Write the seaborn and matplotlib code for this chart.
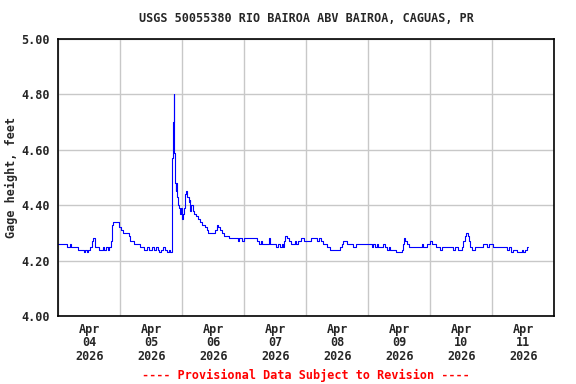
import pandas as pd
import seaborn as sns
import matplotlib.pyplot as plt
import matplotlib.dates as mdates
from matplotlib.ticker import FixedLocator, FormatStrFormatter

# hours after 2026-04-04 00:00 where the reading changes, and the reading (feet)
hours = [0.0, 3.4, 4.5, 5.0, 7.5, 10.1, 10.5, 11.1, 11.6, 12.4, 12.9, 13.3, 14.2,
         15.9, 17.2, 17.8, 18.5, 19.1, 19.7, 20.4, 20.8, 21.2, 23.5, 24.1, 25.0,
         27.2, 27.8, 29.4, 31.5, 33.2, 34.2, 35.0, 36.3, 36.9, 37.8, 38.5, 39.1,
         39.9, 40.6, 41.4, 42.1, 42.7, 43.3, 44.0, 44.3, 44.6, 44.9, 45.1, 45.4,
         45.7, 46.0, 46.4, 46.8, 47.2, 47.6, 48.0, 48.4, 48.8, 49.1, 49.5, 50.0,
         50.4, 50.8, 51.1, 51.5, 52.0, 52.5, 53.3, 54.2, 55.0, 55.8, 56.6, 57.6,
         58.1, 60.5, 61.3, 61.8, 62.5, 63.2, 64.2, 66.1, 69.4, 70.0, 71.0, 72.0,
         77.0, 77.6, 78.3, 78.7, 81.6, 82.1, 84.3, 85.2, 85.8, 86.5, 87.0, 87.4,
         87.9, 88.6, 89.4, 90.2, 91.5, 92.1, 92.9, 94.1, 95.2, 97.9, 100.0, 101.0,
         101.8, 102.6, 103.9, 105.2, 109.0, 109.8, 110.3, 111.6, 113.9, 115.2,
         121.3, 121.9, 122.6, 123.2, 123.9, 125.8, 126.4, 127.1, 127.9, 128.4,
         130.7, 132.9, 133.3, 133.7, 134.3, 135.1, 135.9, 140.6, 141.3, 142.6,
         143.9, 144.5, 146.2, 147.7, 148.4, 152.9, 153.5, 154.8, 156.1, 156.8,
         157.4, 157.9, 158.4, 159.0, 159.5, 160.0, 161.3, 164.5, 165.8, 166.7,
         168.1, 173.5, 174.3, 175.3, 175.9, 177.4, 179.5, 180.0, 180.5, 181.3,
         181.9]
gage_ft = [4.26, 4.25, 4.26, 4.25, 4.24, 4.23, 4.24, 4.23, 4.24, 4.25, 4.27, 4.28, 4.25,
           4.24, 4.25, 4.24, 4.25, 4.24, 4.25, 4.27, 4.33, 4.34, 4.32, 4.31, 4.30,
           4.29, 4.27, 4.26, 4.25, 4.24, 4.25, 4.24, 4.25, 4.24, 4.25, 4.24, 4.23,
           4.24, 4.25, 4.24, 4.23, 4.24, 4.23, 4.57, 4.70, 4.80, 4.59, 4.48, 4.45,
           4.48, 4.43, 4.40, 4.39, 4.37, 4.39, 4.35, 4.37, 4.39, 4.44, 4.45, 4.43,
           4.41, 4.42, 4.38, 4.40, 4.38, 4.37, 4.36, 4.35, 4.34, 4.33, 4.32, 4.31,
           4.30, 4.31, 4.33, 4.32, 4.31, 4.30, 4.29, 4.28, 4.27, 4.28, 4.27, 4.28,
           4.27, 4.26, 4.27, 4.26, 4.28, 4.26, 4.25, 4.26, 4.25, 4.26, 4.25, 4.27,
           4.29, 4.28, 4.27, 4.26, 4.27, 4.26, 4.27, 4.28, 4.27, 4.28, 4.27, 4.28,
           4.27, 4.26, 4.25, 4.24, 4.25, 4.26, 4.27, 4.26, 4.25, 4.26,
           4.25, 4.26, 4.25, 4.26, 4.25, 4.26, 4.25, 4.24, 4.25, 4.24,
           4.23, 4.24, 4.26, 4.28, 4.27, 4.26, 4.25, 4.26, 4.25, 4.26,
           4.27, 4.26, 4.25, 4.24, 4.25, 4.24, 4.25, 4.24, 4.25, 4.27,
           4.29, 4.30, 4.29, 4.27, 4.25, 4.24, 4.25, 4.26, 4.25, 4.26,
           4.25, 4.24, 4.25, 4.23, 4.24, 4.23, 4.24, 4.23, 4.24, 4.25,
           4.25]

start = pd.Timestamp('2026-04-04')
end = pd.Timestamp('2026-04-12')
days = pd.date_range('2026-04-04', '2026-04-12', freq='D')
day_labels = ['Apr\n04\n2026', 'Apr\n05\n2026', 'Apr\n06\n2026', 'Apr\n07\n2026',
              'Apr\n08\n2026', 'Apr\n09\n2026', 'Apr\n10\n2026', 'Apr\n11\n2026']
y_ticks = [4.0, 4.2, 4.4, 4.6, 4.8, 5.0]

df = pd.DataFrame({'time': start + pd.to_timedelta(hours, unit='h'), 'gage': gage_ft})

sns.set_style('white')
plt.rcParams['font.family'] = ['DejaVu Sans Mono']
plt.rcParams['font.weight'] = 'bold'

fig = plt.figure(figsize=(5.76, 3.84), dpi=100)
ax = fig.add_axes([58.3 / 576, 1 - 316 / 384, 496 / 576, 277 / 384])

sns.lineplot(data=df, x='time', y='gage', ax=ax, color='#0000ff', lw=0.8,
             drawstyle='steps-post', estimator=None)

ax.set_xlim(start, end)
ax.set_ylim(4.0, 5.0)

# gridlines at midnight, labels at noon
ax.xaxis.set_major_locator(FixedLocator(mdates.date2num(days)))
ax.xaxis.set_major_formatter(plt.NullFormatter())
noons = days[:-1] + pd.Timedelta(hours=12)
ax.xaxis.set_minor_locator(FixedLocator(mdates.date2num(noons)))
ax.xaxis.set_minor_formatter(plt.FixedFormatter(day_labels))
ax.tick_params(axis='x', which='both', length=0, pad=5)
for lab in ax.get_xticklabels(minor=True):
    lab.set_fontsize(8.5)
    lab.set_fontweight('bold')
    lab.set_linespacing(1.05)

ax.set_yticks(y_ticks)
ax.yaxis.set_major_formatter(FormatStrFormatter('%.2f'))
ax.tick_params(axis='y', length=0, pad=6, labelsize=8.5)

ax.grid(True, which='major', color='#c8c8c8', lw=1.0)
ax.set_axisbelow(True)
for s in ax.spines.values():
    s.set_color('black')
    s.set_linewidth(1.2)

ax.set_xlabel('')
ax.set_ylabel('Gage height, feet', fontsize=8.5, fontweight='bold')
ax.yaxis.set_label_coords(-0.082, 0.5)

ax.text(0.5, 1 + 20 / 277, 'USGS 50055380 RIO BAIROA ABV BAIROA, CAGUAS, PR',
        transform=ax.transAxes, ha='center', va='center', fontsize=8.5, fontweight='bold')
ax.text(0.5, -59 / 277, '---- Provisional Data Subject to Revision ----',
        transform=ax.transAxes, ha='center', va='center', fontsize=8.5,
        fontweight='bold', color='#ff0000')

fig.savefig('out.png', dpi=100)
